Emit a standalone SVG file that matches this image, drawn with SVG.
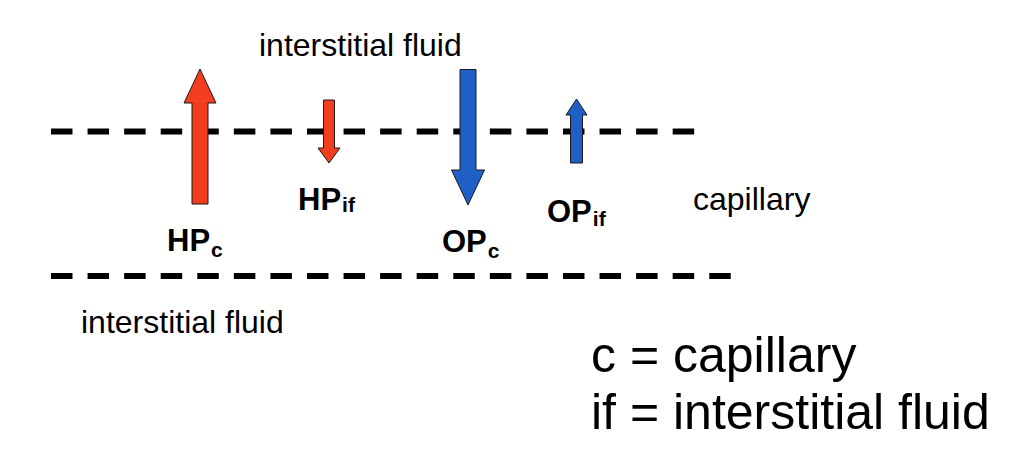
<svg xmlns="http://www.w3.org/2000/svg" width="1019" height="461" viewBox="0 0 1019 461">
<style>
.t{font-family:"Liberation Sans",Arial,sans-serif;fill:#000}
.lbl{font-family:"Liberation Sans",Arial,sans-serif;font-weight:bold;font-size:31px;fill:#000}
.sub{font-size:21px}
.dash{stroke:#000;stroke-width:6;stroke-dasharray:21.5 15.07;fill:none}
.red{fill:#F23D1E;stroke:#1a1a1a;stroke-width:1}
.blue{fill:#1F5FC6;stroke:#1a1a1a;stroke-width:1}
</style>
<rect width="1019" height="461" fill="#fff"/>
<g id="connectors">
<line class="dash" x1="51" y1="131.5" x2="695" y2="131.5"/>
<line class="dash" x1="51" y1="276" x2="731" y2="276"/>
</g>
<g id="arrow-HPc">
<polygon class="red" points="200,69 216,103 208,103 208,204 192,204 192,103 184,103"/>
<text class="lbl" x="167" y="251">HP<tspan class="sub" dx="1" dy="6">c</tspan></text>
</g>
<g id="arrow-HPif">
<polygon class="red" points="329,163 340,148 334.5,148 334.5,100 323.5,100 323.5,148 318,148"/>
<text class="lbl" x="298" y="210">HP<tspan class="sub" dx="1" dy="2">if</tspan></text>
</g>
<g id="arrow-OPc">
<polygon class="blue" points="468,205 484.5,170 476,170 476,69.5 460,69.5 460,170 451.5,170"/>
<text class="lbl" x="442" y="252">OP<tspan class="sub" dx="1" dy="6">c</tspan></text>
</g>
<g id="arrow-OPif">
<polygon class="blue" points="576.5,99 587,115 582.5,115 582.5,163 570.5,163 570.5,115 566,115"/>
<text class="lbl" x="547" y="222">OP<tspan class="sub" dx="1" dy="4">if</tspan></text>
</g>
<g id="label-top">
<text class="t" x="259" y="56" font-size="32">interstitial fluid</text>
</g>
<g id="label-capillary">
<text class="t" x="693" y="210" font-size="32">capillary</text>
</g>
<g id="label-bottom">
<text class="t" x="81" y="333" font-size="32">interstitial fluid</text>
</g>
<g id="legend">
<text class="t" x="591" y="372" font-size="50">c = capillary</text>
<text class="t" x="591" y="429" font-size="50">if = interstitial fluid</text>
</g>
</svg>
